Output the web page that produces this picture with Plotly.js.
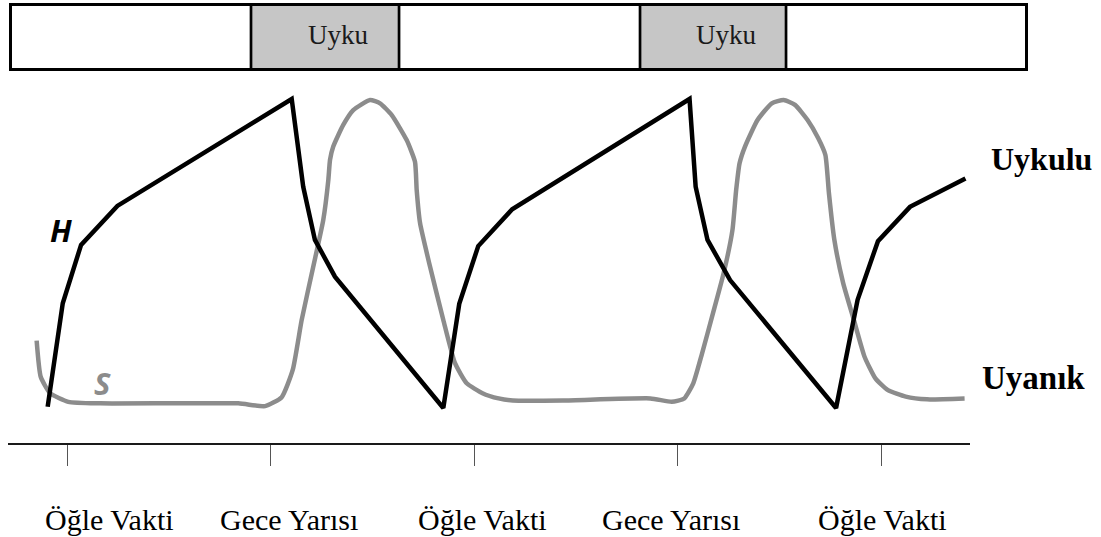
<!DOCTYPE html>
<html>
<head>
<meta charset="utf-8">
<script src="https://cdn.plot.ly/plotly-3.0.1.min.js"></script>
<style>html,body{margin:0;padding:0;background:#fff;}#chart{width:1101px;height:537px;}</style>
</head>
<body>
<div id="chart"></div>
<script>
// ---- data (x in hours of the day, continuous; y in relative level 0-100) ----
var tickHours = [12, 24, 36, 48, 60];
var tickLabels = ["Öğle Vakti", "Gece Yarısı", "Öğle Vakti", "Gece Yarısı", "Öğle Vakti"];

var sleepStart = [22.85, 45.79];
var sleepEnd = [31.58, 54.40];
var sleepLabel = ["Uyku", "Uyku"];

var hHours = [10.86, 11.75, 12.83, 14.97, 25.25, 25.93, 26.62, 27.80, 34.19, 35.13, 36.25, 38.25, 48.71, 49.07, 49.77, 51.10, 57.35, 58.62, 59.82, 61.71, 64.98];
var hLevel = [0.4, 33.9, 52.8, 65.4, 100, 71.6, 54.4, 42.5, 0, 33.7, 52.4, 64.3, 100, 71.6, 54.4, 41.4, 0, 35.0, 54.0, 65.1, 74.3];

var sHours = [10.21, 10.45, 11.00, 12.08, 13.95, 22.10, 23.68, 24.66, 25.31, 25.84, 26.52, 27.11, 27.41, 27.51, 27.70, 28.29, 28.88, 29.87, 30.46, 31.15, 32.03, 32.52, 32.62, 32.82, 33.41, 34.19, 34.88, 35.57, 36.50, 37.45, 38.29, 41.24, 46.40, 47.66, 48.40, 48.93, 49.45, 50.09, 50.72, 51.24, 51.46, 51.66, 51.98, 52.72, 53.56, 54.26, 54.93, 55.67, 56.30, 56.72, 56.93, 57.25, 57.77, 58.40, 59.03, 59.67, 60.41, 61.46, 62.71, 64.93];
var sLevel = [21.8, 10.1, 4.8, 2.0, 1.5, 1.5, 0.6, 3.5, 12.3, 28.5, 45.7, 60.8, 73.8, 80.3, 84.6, 91.6, 96.4, 99.7, 98.6, 94.8, 86.7, 79.7, 70.6, 59.8, 45.7, 28.5, 14.5, 8.0, 4.8, 3.1, 2.4, 2.4, 3.1, 2.0, 3.1, 8.0, 17.7, 30.6, 43.6, 57.6, 70.6, 79.2, 84.6, 93.2, 98.6, 99.7, 98.1, 93.2, 87.3, 81.9, 69.5, 54.4, 40.4, 28.5, 16.6, 9.6, 5.8, 3.7, 2.8, 3.1];

var hName = "H";
var sName = "S";
var sleepyLabel = "Uykulu";
var awakeLabel = "Uyanık";

// ---- layout helpers (pixel geometry of the figure) ----
var W = 1101, H = 537;
var mL = 8, mR = 131, mT = 4, mB = 94;
var plotW = W - mL - mR, plotH = H - mT - mB;
function px2paperX(px) { return (px - mL) / plotW; }
function py2paperY(py) { return (H - mB - py) / plotH; }

var serif = "'Liberation Serif', 'Times New Roman', serif";
var black = "#000000";
var gray = "#8c8c8c";

var traces = [
  {x: sHours, y: sLevel, mode: "lines", name: sName, line: {color: gray, width: 4.5, shape: "spline", smoothing: 0.5}, hoverinfo: "skip"},
  {x: hHours, y: hLevel, mode: "lines", name: hName, line: {color: black, width: 4.5}, hoverinfo: "skip"}
];

var barTop = py2paperY(4.5), barBot = py2paperY(69.5);
var shapes = [];
for (var i = 0; i < sleepStart.length; i++) {
  shapes.push({type: "rect", xref: "x", yref: "paper", x0: sleepStart[i], x1: sleepEnd[i], y0: barBot, y1: barTop,
    fillcolor: "#c6c6c6", line: {width: 0}, layer: "below"});
  shapes.push({type: "line", xref: "x", yref: "paper", x0: sleepStart[i], x1: sleepStart[i], y0: barBot, y1: barTop, line: {color: black, width: 2.7}});
  shapes.push({type: "line", xref: "x", yref: "paper", x0: sleepEnd[i], x1: sleepEnd[i], y0: barBot, y1: barTop, line: {color: black, width: 2.7}});
}
shapes.push({type: "rect", xref: "paper", yref: "paper", x0: px2paperX(10.5), x1: px2paperX(1026.5), y0: barBot, y1: barTop,
  line: {color: black, width: 3}, fillcolor: "rgba(0,0,0,0)"});

var annotations = [];
for (var j = 0; j < sleepStart.length; j++) {
  annotations.push({xref: "x", yref: "paper", x: (sleepStart[j] + sleepEnd[j]) / 2, xshift: 13, y: py2paperY(35.5),
    text: sleepLabel[j], showarrow: false, xanchor: "center", yanchor: "middle", font: {family: serif, size: 27, color: "#1a1a1a"}});
}
var labelShift = [42, 18, 8, -7, 1];
for (var k = 0; k < tickHours.length; k++) {
  annotations.push({xref: "x", yref: "paper", x: tickHours[k], xshift: labelShift[k], y: py2paperY(519),
    text: tickLabels[k], showarrow: false, xanchor: "center", yanchor: "middle", font: {family: serif, size: 30, color: black}});
}
annotations.push({xref: "paper", yref: "paper", x: px2paperX(1041), y: py2paperY(158.5), text: "<b>" + sleepyLabel + "</b>",
  showarrow: false, xanchor: "center", yanchor: "middle", font: {family: serif, size: 32, color: black}});
annotations.push({xref: "paper", yref: "paper", x: px2paperX(1033), y: py2paperY(377.5), text: "<b>" + awakeLabel + "</b>",
  showarrow: false, xanchor: "center", yanchor: "middle", font: {family: serif, size: 33, color: black}});
annotations.push({xref: "paper", yref: "paper", x: px2paperX(60.5), y: py2paperY(230), text: "<b><i>" + hName + "</i></b>",
  showarrow: false, xanchor: "center", yanchor: "middle", font: {family: "Open Sans, sans-serif", size: 31, color: black}});
annotations.push({xref: "paper", yref: "paper", x: px2paperX(102.5), y: py2paperY(382.5), text: "<b><i>" + sName + "</i></b>",
  showarrow: false, xanchor: "center", yanchor: "middle", font: {family: "Open Sans, sans-serif", size: 31, color: gray}});

var pxPerHour = (881 - 67) / 48;
var x0 = 12 - (67 - mL) / pxPerHour;
var x1 = x0 + plotW / pxPerHour;
var yPerUnit = (408 - 99) / 100;
var y0 = -((H - mB) - 408) / yPerUnit;
var y1 = y0 + plotH / yPerUnit;

var layout = {
  width: W, height: H,
  margin: {l: mL, r: mR, t: mT, b: mB, pad: 0},
  paper_bgcolor: "#ffffff", plot_bgcolor: "#ffffff",
  showlegend: false,
  xaxis: {range: [x0, x1], showgrid: false, zeroline: false, showline: true, linecolor: "#1a1a1a", linewidth: 2,
    ticks: "outside", tickvals: tickHours, ticklen: 21, tickwidth: 1, tickcolor: "#555555", showticklabels: false, fixedrange: true},
  yaxis: {range: [y0, y1], visible: false, showgrid: false, zeroline: false, fixedrange: true},
  shapes: shapes,
  annotations: annotations
};

Plotly.newPlot("chart", traces, layout, {displayModeBar: false, staticPlot: true});
</script>
</body>
</html>
